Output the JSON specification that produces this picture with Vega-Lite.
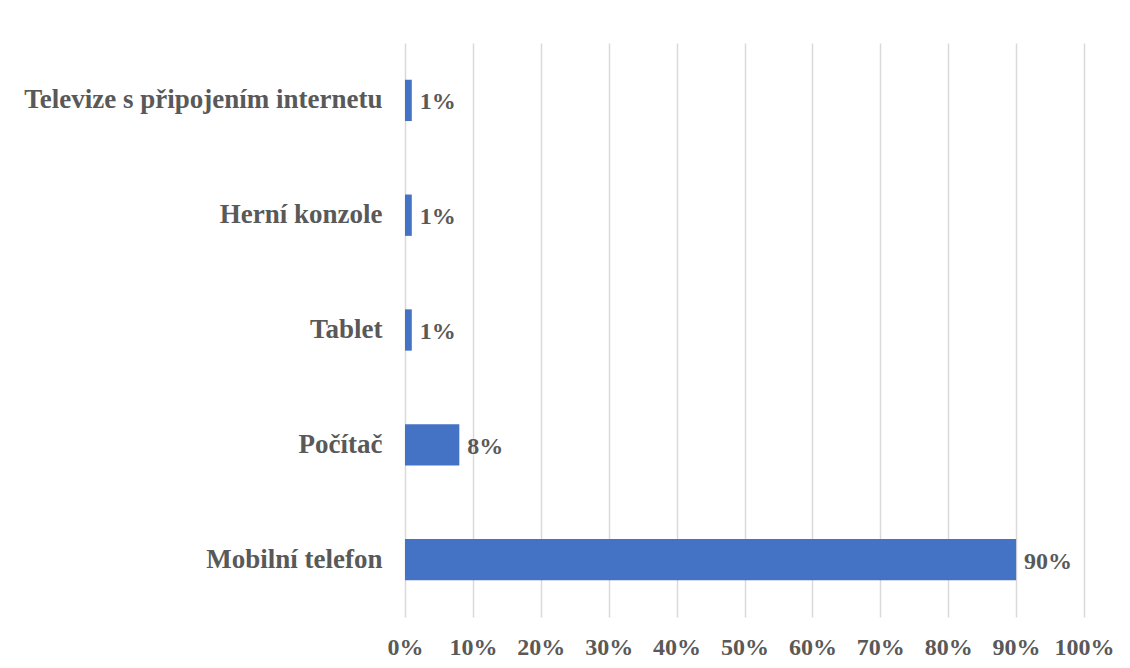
{
  "$schema": "https://vega.github.io/schema/vega-lite/v6.json",
  "autosize": {"type": "none"},
  "padding": {"left": 405, "top": 43, "right": 46, "bottom": 51},
  "width": 679,
  "height": 574,
  "background": "white",
  "config": {"view": {"stroke": null}, "font": "Times New Roman, Liberation Serif, serif"},
  "data": {
    "values": [
      {"device": "Televize s připojením internetu", "share": 0.01},
      {"device": "Herní konzole", "share": 0.01},
      {"device": "Tablet", "share": 0.01},
      {"device": "Počítač", "share": 0.08},
      {"device": "Mobilní telefon", "share": 0.90}
    ]
  },
  "encoding": {
    "y": {
      "field": "device",
      "type": "nominal",
      "sort": ["Televize s připojením internetu", "Herní konzole", "Tablet", "Počítač", "Mobilní telefon"],
      "scale": {"paddingInner": 0.64, "paddingOuter": 0.32},
      "axis": {
        "title": null,
        "domain": false,
        "ticks": false,
        "labelPadding": 23,
        "labelFont": "Times New Roman, Liberation Serif, serif",
        "labelFontSize": 27,
        "labelFontWeight": "bold",
        "labelColor": "#595959",
        "labelLimit": 400
      }
    },
    "x": {
      "field": "share",
      "type": "quantitative",
      "scale": {"domain": [0, 1], "nice": false},
      "axis": {
        "title": null,
        "format": ".0%",
        "values": [0, 0.1, 0.2, 0.3, 0.4, 0.5, 0.6, 0.7, 0.8, 0.9, 1],
        "domain": false,
        "ticks": false,
        "grid": true,
        "gridColor": "#d9d9d9",
        "gridWidth": 1.5,
        "labelPadding": 18,
        "labelFont": "Times New Roman, Liberation Serif, serif",
        "labelFontSize": 24,
        "labelFontWeight": "bold",
        "labelColor": "#595959",
        "labelFlush": false
      }
    }
  },
  "layer": [
    {"mark": {"type": "bar", "color": "#4472C4"}},
    {
      "mark": {
        "type": "text",
        "align": "left",
        "baseline": "middle",
        "dx": 8,
        "dy": 2,
        "font": "Times New Roman, Liberation Serif, serif",
        "fontSize": 24,
        "fontWeight": "bold",
        "color": "#595959"
      },
      "encoding": {"text": {"field": "share", "type": "quantitative", "format": ".0%"}}
    }
  ]
}
